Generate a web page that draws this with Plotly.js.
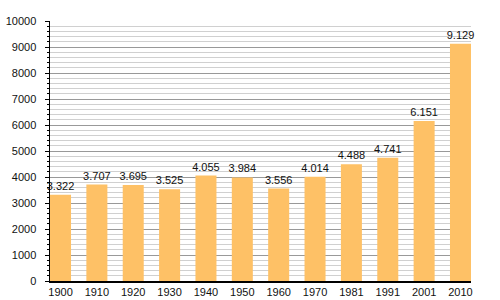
<!DOCTYPE html>
<html><head><meta charset="utf-8">
<script src="https://cdn.plot.ly/plotly-3.0.1.min.js"></script>
<style>html,body{margin:0;padding:0;background:#fff}#c{width:500px;height:300px}</style>
</head><body><div id="c"></div>
<script>
const years = ['1900','1910','1920','1930','1940','1950','1960','1970','1981','1991','2001','2010'];
const population = [3322,3707,3695,3525,4055,3984,3556,4014,4488,4741,6151,9129];
const labels = ['3.322','3.707','3.695','3.525','4.055','3.984','3.556','4.014','4.488','4.741','6.151','9.129'];

Plotly.newPlot('c', [{
  type: 'bar', x: years, y: population, text: labels,
  textposition: 'outside', cliponaxis: false, constraintext: 'none',
  textfont: {family: 'Liberation Sans, Arial, sans-serif', size: 11, color: '#111'},
  marker: {color: '#FEC166', line: {width: 0}},
  hoverinfo: 'none'
}], {
  width: 500, height: 300,
  margin: {l: 50, r: 29, t: 21, b: 19, pad: 0},
  paper_bgcolor: '#fff', plot_bgcolor: '#fff',
  bargap: 0.422,
  showlegend: false,
  font: {family: 'Liberation Sans, Arial, sans-serif', size: 11, color: '#111'},
  xaxis: {type: 'category', range: [-0.289, 11.289], showline: true, linecolor: '#000', linewidth: 1.5,
    ticks: '', showgrid: false, tickfont: {size: 11}, fixedrange: true},
  yaxis: {range: [0, 10000], dtick: 1000, tickformat: 'd', showline: true, linecolor: '#000', linewidth: 1.5,
    ticks: 'outside', ticklen: 4, tickcolor: '#000', tickwidth: 1, ticklabelstandoff: 6,
    gridcolor: '#999', gridwidth: 1, zeroline: false, tickfont: {size: 11},
    minor: {dtick: 200, showgrid: true, gridcolor: '#d0d0d0', gridwidth: 1, ticks: 'outside', ticklen: 2, tickcolor: '#000'},
    fixedrange: true}
}, {staticPlot: true});
</script></body></html>
